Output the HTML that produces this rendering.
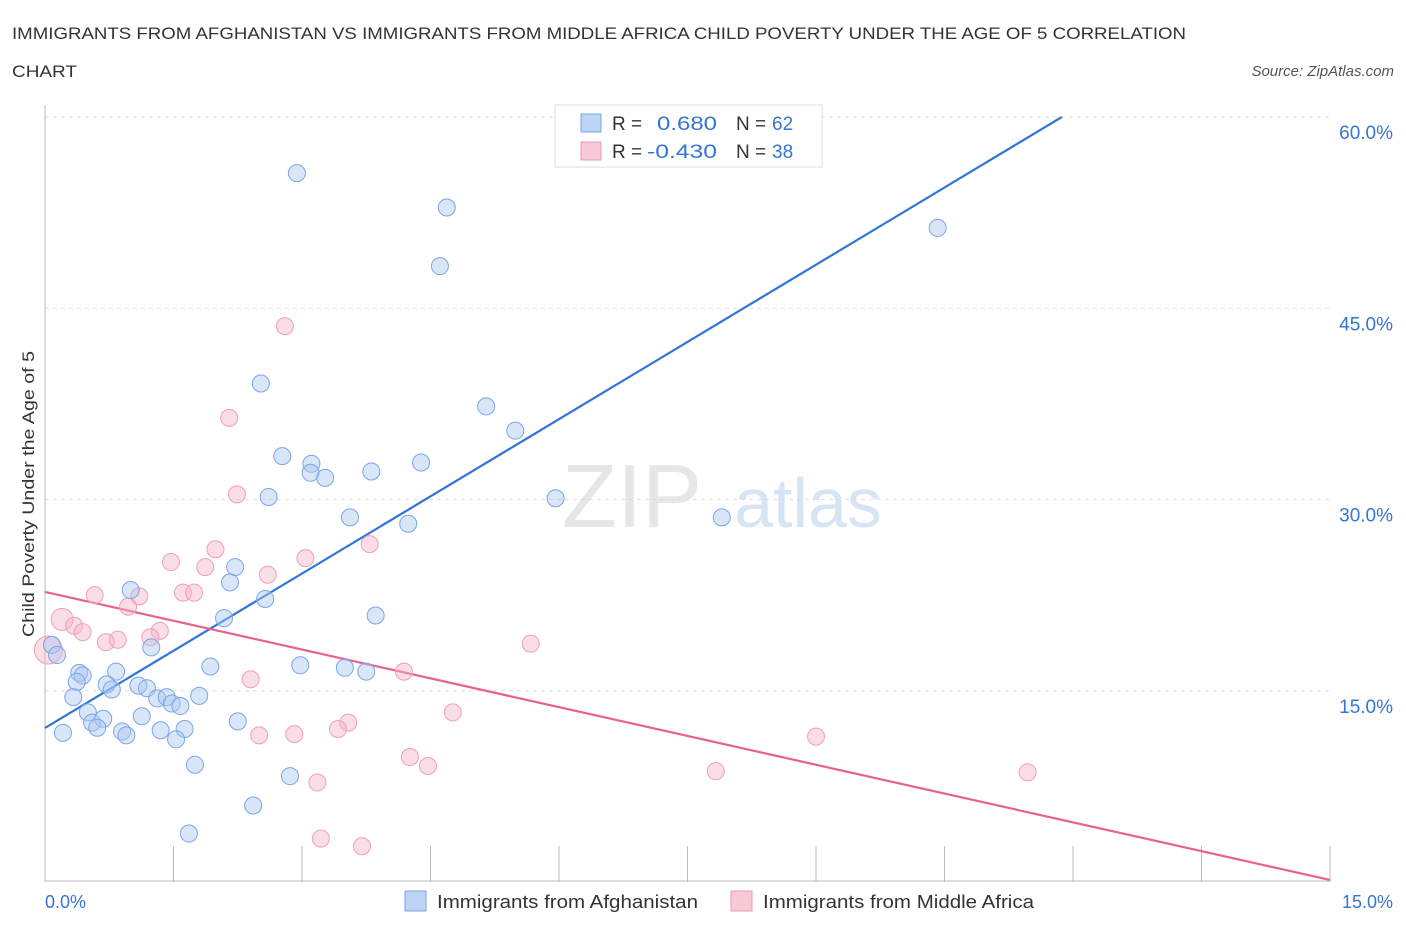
<!DOCTYPE html>
<html><head><meta charset="utf-8"><style>
body{margin:0;background:#fff;font-family:"Liberation Sans",sans-serif}
svg text{font-family:"Liberation Sans",sans-serif}
</style></head><body>
<svg id="chart" width="1406" height="930" viewBox="0 0 1406 930">
<text x="12" y="39" font-size="17" fill="#333" textLength="1174" lengthAdjust="spacingAndGlyphs">IMMIGRANTS FROM AFGHANISTAN VS IMMIGRANTS FROM MIDDLE AFRICA CHILD POVERTY UNDER THE AGE OF 5 CORRELATION</text>
<text x="12" y="77" font-size="17" fill="#333" textLength="65" lengthAdjust="spacingAndGlyphs">CHART</text>
<text x="1394" y="76" font-size="15" fill="#555" font-style="italic" text-anchor="end">Source: ZipAtlas.com</text>
<text x="632" y="527" font-size="90" fill="#e6e6e6" font-family="Liberation Serif" text-anchor="middle">ZIP</text>
<text x="808" y="527" font-size="70" fill="#d6e4f4" text-anchor="middle">atlas</text>
<g id="grid"></g>
<g id="lines"></g>
<g id="points"></g>
<text transform="translate(34,494) rotate(-90)" font-size="17" fill="#333" text-anchor="middle" textLength="286" lengthAdjust="spacingAndGlyphs">Child Poverty Under the Age of 5</text>
<g>
<rect x="555" y="105" width="267" height="62" fill="#fff" stroke="#ddd"/>
<rect x="581" y="114" width="20" height="18" fill="#bcd4f5" stroke="#7aa6e8"/>
<text x="612" y="130" font-size="19" fill="#333">R =</text>
<text x="657" y="130" font-size="19" fill="#3575d3" textLength="60" lengthAdjust="spacingAndGlyphs">0.680</text>
<text x="736" y="130" font-size="19" fill="#333">N =</text>
<text x="772" y="130" font-size="19" fill="#3575d3">62</text>
<rect x="581" y="142" width="20" height="18" fill="#f8c9d6" stroke="#ee9ab2"/>
<text x="612" y="158" font-size="19" fill="#333">R =</text>
<text x="647" y="158" font-size="19" fill="#3575d3" textLength="70" lengthAdjust="spacingAndGlyphs">-0.430</text>
<text x="736" y="158" font-size="19" fill="#333">N =</text>
<text x="772" y="158" font-size="19" fill="#3575d3">38</text>
</g>
<g>
<rect x="405" y="891" width="21" height="20" fill="#bcd4f5" stroke="#7aa6e8"/>
<text x="437" y="908" font-size="18" fill="#333" textLength="261" lengthAdjust="spacingAndGlyphs">Immigrants from Afghanistan</text>
<rect x="731" y="891" width="21" height="20" fill="#f8c9d6" stroke="#ee9ab2"/>
<text x="763" y="908" font-size="18" fill="#333" textLength="271" lengthAdjust="spacingAndGlyphs">Immigrants from Middle Africa</text>
</g>
<text x="45" y="908" font-size="18" fill="#3575d3">0.0%</text>
<text x="1393" y="908" font-size="18" fill="#3575d3" text-anchor="end">15.0%</text>
</svg>
<script>
const yTicks=[15,30,45,60];
const yTickLabels=["15.0%","30.0%","45.0%","60.0%"];
const xTickVals=[0,1.5,3,4.5,6,7.5,9,10.5,12,13.5,15];
const blueX=[2.94,4.69,4.61,10.42,2.52,5.15,5.49,2.77,3.11,3.10,3.27,3.81,4.39,2.61,5.96,3.56,4.24,7.90,2.22,2.16,1.00,2.57,3.86,2.09,1.24,0.08,0.14,0.40,0.44,0.37,0.83,1.93,2.98,3.50,3.75,0.72,0.78,1.09,1.19,0.33,1.31,1.42,1.80,1.48,1.58,0.50,1.13,2.25,0.55,0.68,0.61,0.21,0.90,0.95,1.35,1.63,1.53,1.75,2.86,2.43,1.68];
const blueY=[55.6,52.9,48.3,51.3,39.1,37.3,35.4,33.4,32.8,32.1,31.7,32.2,32.9,30.2,30.1,28.6,28.1,28.6,24.7,23.5,22.9,22.2,20.9,20.7,18.4,18.6,17.8,16.4,16.2,15.7,16.5,16.9,17.0,16.8,16.5,15.5,15.1,15.4,15.2,14.5,14.4,14.5,14.6,14.0,13.8,13.3,13.0,12.6,12.5,12.8,12.1,11.7,11.8,11.5,11.9,12.0,11.2,9.2,8.3,6.0,3.8];
const pinkX=[2.80,2.15,2.24,1.99,3.79,3.04,1.47,1.87,2.60,0.58,1.10,1.61,1.74,0.97,0.20,0.34,0.44,1.34,1.23,0.71,0.85,5.67,0.04,2.40,4.19,4.76,3.54,3.42,2.50,2.91,9.00,4.26,4.47,7.83,11.47,3.18,3.22,3.70];
const pinkY=[43.6,36.4,30.4,26.1,26.5,25.4,25.1,24.7,24.1,22.5,22.4,22.7,22.7,21.6,20.6,20.1,19.6,19.7,19.2,18.8,19.0,18.7,18.2,15.9,16.5,13.3,12.5,12.0,11.5,11.6,11.4,9.8,9.1,8.7,8.6,7.8,3.4,2.8];
const blueLine=[[0,12.08],[11.87,60]];
const pinkLine=[[0,22.75],[15,0.16]];
const NS='http://www.w3.org/2000/svg';
const X=v=>45+v/15*1285, Y=v=>882-v*12.75;
function mk(t,a,p){const e=document.createElementNS(NS,t);for(const k in a)e.setAttribute(k,a[k]);p.appendChild(e);return e;}
const g=document.getElementById('grid');
yTicks.forEach((t,i)=>{
 const l=mk('line',{x1:45,x2:1330,y1:Y(t),y2:Y(t),stroke:'#ddd','stroke-dasharray':'4,4'},g);
 
 
 const tx=mk('text',{x:1393,y:Y(t)+22,'font-size':19,fill:'#3575d3','text-anchor':'end'},g);
 tx.textContent=yTickLabels[i];
 
 
});
const ax=mk('line',{x1:45,x2:45,y1:105,y2:882,stroke:'#bbb'},g);


const bx=mk('line',{x1:45,x2:1330,y1:881,y2:881,stroke:'#bbb'},g);


xTickVals.forEach(v=>{
 const t=mk('line',{x1:X(v),x2:X(v),y1:846,y2:882,stroke:'#bbb'},g);
 
 
});
const pg=document.getElementById('points');
pinkX.forEach((x,i)=>{
 const big=(i===22)?14:(i===14?11:8.5);
 const c=mk('circle',{cx:X(x),cy:Y(pinkY[i]),r:big,fill:'rgba(246,180,200,0.45)',stroke:'#eea0b8','stroke-width':1},pg);
 
 
});
blueX.forEach((x,i)=>{
 const c=mk('circle',{cx:X(x),cy:Y(blueY[i]),r:8.5,fill:'rgba(170,200,240,0.45)',stroke:'#7aa6e8','stroke-width':1},pg);
 
 
});
const lg=document.getElementById('lines');
const bl=mk('line',{x1:X(blueLine[0][0]),y1:Y(blueLine[0][1]),x2:X(blueLine[1][0]),y2:Y(blueLine[1][1]),stroke:'#2f76d6','stroke-width':2.2},lg);


const pl=mk('line',{x1:X(pinkLine[0][0]),y1:Y(pinkLine[0][1]),x2:X(pinkLine[1][0]),y2:Y(pinkLine[1][1]),stroke:'#e8628f','stroke-width':2.2},lg);


</script>
</body></html>
